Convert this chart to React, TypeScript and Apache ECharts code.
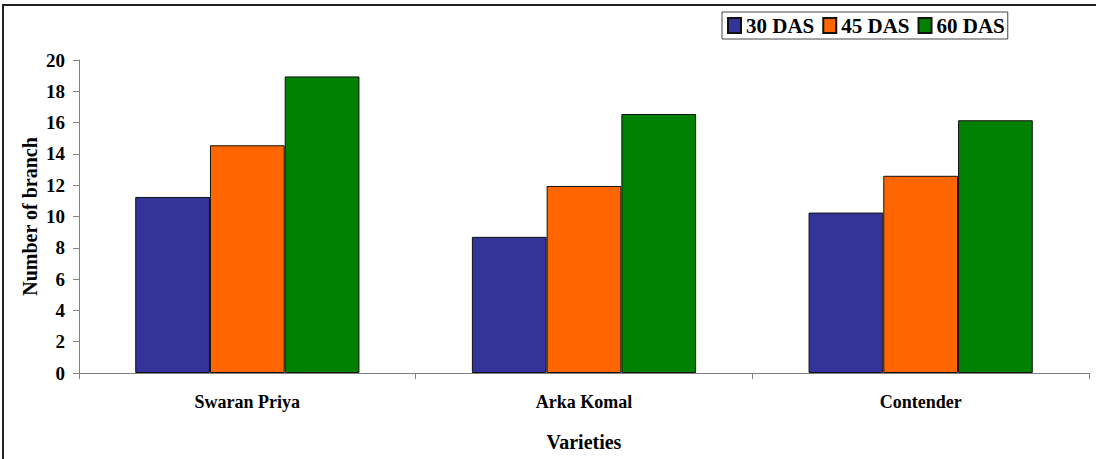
import React, { useEffect, useRef } from "react";
import * as echarts from "echarts";

const categories = ["Swaran Priya", "Arka Komal", "Contender"];
const seriesNames = ["30 DAS", "45 DAS", "60 DAS"];
const das30 = [11.25, 8.7, 10.25];
const das45 = [14.55, 11.95, 12.6];
const das60 = [18.95, 16.55, 16.15];
const colors = ["#333399", "#FF6600", "#008000"];

const FONT = "Liberation Serif";

export default function App() {
  const ref = useRef<HTMLDivElement>(null);
  useEffect(() => {
    document.body.style.margin = "0";
    const chart = echarts.init(ref.current!, null, { renderer: "svg" });
    const values = [das30, das45, das60];
    chart.setOption({
      animation: false,
      backgroundColor: "#ffffff",
      textStyle: { fontFamily: FONT },
      graphic: [
        {
          type: "rect",
          shape: { x: 3, y: 5, width: 1200, height: 600 },
          style: { fill: "none", stroke: "#222", lineWidth: 2 },
          silent: true,
        },
      ],
      legend: {
        left: 722,
        top: 12,
        orient: "horizontal",
        itemWidth: 13,
        itemHeight: 15,
        itemGap: 8,
        padding: [3, 3, 3, 5],
        borderColor: "#444",
        borderWidth: 1,
        backgroundColor: "#fff",
        icon: "rect",
        textStyle: {
          fontFamily: FONT,
          fontWeight: "bold",
          fontSize: 21,
          color: "#000",
        },
        data: seriesNames,
      },
      grid: { left: 79, right: 7, top: 60, bottom: 86, containLabel: false },
      xAxis: {
        type: "category",
        data: categories,
        boundaryGap: true,
        name: "Varieties",
        nameLocation: "middle",
        nameGap: 59,
        nameMoveOverlap: false,
        nameTextStyle: { fontFamily: FONT, fontWeight: "bold", fontSize: 20, color: "#000" },
        axisLine: { lineStyle: { color: "#808080", width: 1 } },
        axisTick: { show: true, length: 6, lineStyle: { color: "#808080" } },
        axisLabel: { margin: 20, fontFamily: FONT, fontWeight: "bold", fontSize: 18, color: "#000" },
        splitLine: { show: false },
      },
      yAxis: {
        type: "value",
        min: 0,
        max: 20,
        interval: 2,
        name: "Number of branch",
        nameLocation: "middle",
        nameRotate: 90,
        nameGap: 39,
        nameMoveOverlap: false,
        nameTextStyle: { fontFamily: FONT, fontWeight: "bold", fontSize: 20, color: "#000" },
        axisLine: { show: true, lineStyle: { color: "#808080", width: 1 } },
        axisTick: { show: true, length: 6, lineStyle: { color: "#808080" } },
        axisLabel: { margin: 14, fontFamily: FONT, fontWeight: "bold", fontSize: 19, color: "#000" },
        splitLine: { show: false },
      },
      series: seriesNames.map((n, i) => ({
        name: n,
        type: "bar",
        data: values[i],
        barGap: "0%",
        barCategoryGap: "33.4%",
        itemStyle: { color: colors[i], borderColor: "#111", borderWidth: 1 },
      })),
    });
    return () => chart.dispose();
  }, []);
  return <div ref={ref} style={{ width: 1096, height: 459 }} />;
}
